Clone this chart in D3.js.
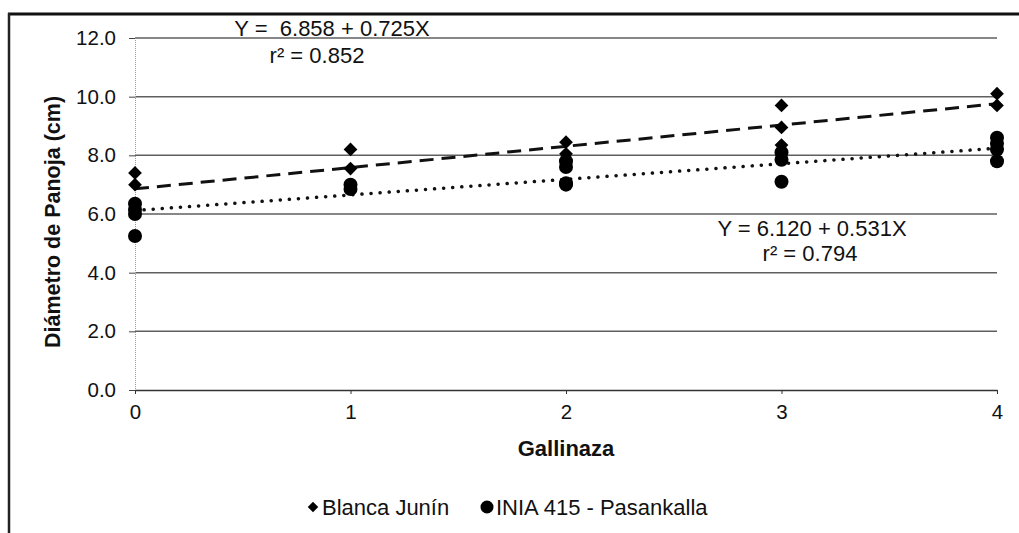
<!DOCTYPE html>
<html><head><meta charset="utf-8">
<script src="https://cdn.jsdelivr.net/npm/d3@7"></script>
<style>body{margin:0;background:#fff;}svg{display:block;font-family:Arial,"Liberation Sans",sans-serif;}</style>
</head><body>
<svg id="c" width="1019" height="533"></svg>
<script>
const xTicks = [0, 1, 2, 3, 4];
const yTicks = [0, 2, 4, 6, 8, 10, 12];
const blancaX = [0, 0, 1, 1, 2, 2, 3, 3, 3, 4, 4];
const blancaY = [7.4, 7.0, 8.2, 7.55, 8.45, 8.05, 9.7, 8.95, 8.35, 10.1, 9.7];
const iniaX = [0, 0, 0, 0, 1, 1, 2, 2, 2, 2, 3, 3, 3, 4, 4, 4, 4];
const iniaY = [6.35, 6.15, 6.0, 5.25, 7.0, 6.85, 7.8, 7.6, 7.05, 7.0, 8.1, 7.85, 7.1, 8.6, 8.4, 8.2, 7.8];
const blancaFit = [6.858, 0.725];
const iniaFit = [6.120, 0.531];
const seriesNames = ["Blanca Junín", "INIA 415 - Pasankalla"];
const eq1 = ["Y =  6.858 + 0.725X", "r² = 0.852"];
const eq2 = ["Y = 6.120 + 0.531X", "r² = 0.794"];

const FONT = "Arial, 'Liberation Sans', sans-serif";
const svg = d3.select("#c");
const x = d3.scaleLinear().domain([0, 4]).range([135, 997]);
const y = d3.scaleLinear().domain([0, 12]).range([390, 38]);

// frame (top and left visible)
svg.append("line").attr("x1", 8).attr("x2", 1019).attr("y1", 14).attr("y2", 14).attr("stroke", "#111").attr("stroke-width", 3);
svg.append("line").attr("x1", 9).attr("x2", 9).attr("y1", 13).attr("y2", 533).attr("stroke", "#222").attr("stroke-width", 2.5);

// gridlines
svg.append("g").selectAll("line").data(yTicks.filter(d => d > 0)).join("line")
  .attr("x1", x(0)).attr("x2", x(4)).attr("y1", d => y(d)).attr("y2", d => y(d))
  .attr("stroke", "#5f5f5f").attr("stroke-width", 1.5);

// y axis
const ya = svg.append("g").attr("transform", `translate(${x(0)},0)`)
  .call(d3.axisLeft(y).tickValues(yTicks).tickFormat(d3.format(".1f")).tickSize(6).tickPadding(13));
ya.select(".domain").attr("stroke", "#999").attr("stroke-dasharray", "1,1");
ya.selectAll(".tick line").attr("stroke", "#444");
ya.selectAll("text").attr("font-size", 20.5).attr("fill", "#111").attr("font-family", FONT);

// x axis
const xa = svg.append("g").attr("transform", `translate(0,${y(0)})`)
  .call(d3.axisBottom(x).tickValues(xTicks).tickFormat(d3.format("d")).tickSize(4).tickSizeOuter(0).tickPadding(10));
xa.select(".domain").attr("stroke", "#333").attr("stroke-width", 1.5);
xa.selectAll(".tick line").attr("stroke", "#333");
xa.selectAll("text").attr("font-size", 20.5).attr("fill", "#111").attr("font-family", FONT);

// trend lines
const line = d3.line().x(d => x(d[0])).y(d => y(d[1]));
svg.append("path").datum([[0, blancaFit[0]], [4, blancaFit[0] + 4 * blancaFit[1]]])
  .attr("d", line).attr("stroke", "#111").attr("stroke-width", 3).attr("fill", "none").attr("stroke-dasharray", "14,8");
svg.append("path").datum([[0, iniaFit[0]], [4, iniaFit[0] + 4 * iniaFit[1]]])
  .attr("d", line).attr("stroke", "#111").attr("stroke-width", 3.5).attr("fill", "none").attr("stroke-dasharray", "0.1,9").attr("stroke-linecap", "round");

// points
svg.append("g").selectAll("path").data(blancaX.map((d, i) => [d, blancaY[i]])).join("path")
  .attr("transform", d => `translate(${x(d[0])},${y(d[1])})`)
  .attr("d", d3.symbol(d3.symbolDiamond2, 120)).attr("fill", "#000");
svg.append("g").selectAll("circle").data(iniaX.map((d, i) => [d, iniaY[i]])).join("circle")
  .attr("cx", d => x(d[0])).attr("cy", d => y(d[1])).attr("r", 7).attr("fill", "#000");

// equations
const eqg = svg.append("g").attr("font-size", 22).attr("fill", "#111").attr("text-anchor", "middle").attr("font-family", FONT);
eqg.append("text").attr("x", 332).attr("y", 36).style("white-space", "pre").text(eq1[0]);
eqg.append("text").attr("x", 317).attr("y", 63).text(eq1[1]);
eqg.append("text").attr("x", 812).attr("y", 236).text(eq2[0]);
eqg.append("text").attr("x", 810).attr("y", 261).text(eq2[1]);

// axis titles
svg.append("text").attr("x", 566).attr("y", 456).attr("text-anchor", "middle").attr("font-family", FONT)
  .attr("font-size", 22).attr("font-weight", "bold").attr("fill", "#111").text("Gallinaza");
svg.append("text").attr("transform", `translate(60,222) rotate(-90)`).attr("text-anchor", "middle").attr("font-family", FONT)
  .attr("font-size", 21.5).attr("font-weight", "bold").attr("fill", "#111").text("Diámetro de Panoja (cm)");

// legend
const lg = svg.append("g").attr("font-size", 22).attr("fill", "#111").attr("font-family", FONT);
lg.append("path").attr("transform", "translate(313,507)").attr("d", d3.symbol(d3.symbolDiamond2, 70)).attr("fill", "#000");
lg.append("text").attr("x", 322).attr("y", 515).text(seriesNames[0]);
lg.append("circle").attr("cx", 487).attr("cy", 507).attr("r", 6.5).attr("fill", "#000");
lg.append("text").attr("x", 496).attr("y", 515).text(seriesNames[1]);
</script>
</body></html>
